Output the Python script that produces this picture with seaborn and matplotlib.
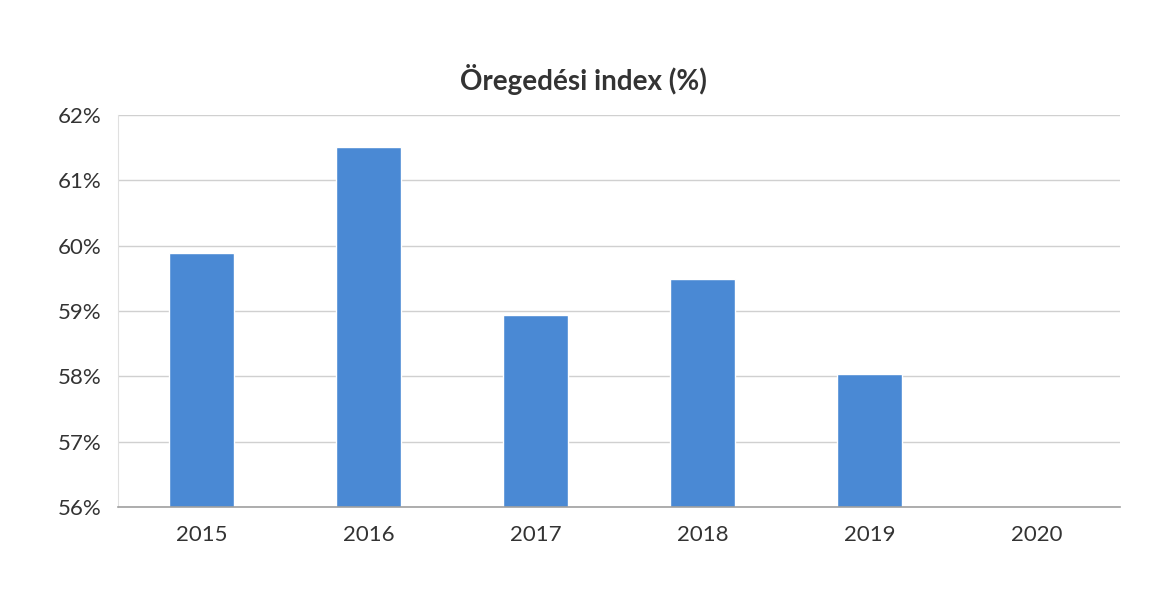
import matplotlib.pyplot as plt
import matplotlib.ticker as mticker
import numpy as np
import pandas as pd
import seaborn as sns

years = ["2015", "2016", "2017", "2018", "2019", "2020"]
index_pct = [59.89, 61.51, 58.94, 59.49, 58.04, np.nan]
y_ticks = [56, 57, 58, 59, 60, 61, 62]

df = pd.DataFrame({"Year": years, "Index": index_pct})

sns.set_style("white")
plt.rcParams["font.family"] = ["Lato", "DejaVu Sans"]

fig = plt.figure(figsize=(11.55, 5.92), dpi=100)
ax = fig.add_axes([0.102, 0.1436, 0.868, 0.6622])

sns.barplot(data=df, x="Year", y="Index", order=years, color="#4a89d4",
            width=0.39, saturation=1, ax=ax)

ax.set_ylim(56, 62)
ax.set_yticks(y_ticks)
ax.yaxis.set_major_formatter(mticker.FuncFormatter(lambda v, p: f"{v:.0f}%"))
ax.set_xlim(-0.5, len(years) - 0.5)
ax.grid(axis="y", color="#d0d0d0", linewidth=1)
ax.set_axisbelow(True)

for side in ["top", "right"]:
    ax.spines[side].set_visible(False)
ax.spines["left"].set_color("#e0e0e0")
ax.spines["bottom"].set_color("#a0a0a0")
ax.spines["bottom"].set_linewidth(1.2)

# category separator ticks on the x axis
ax.set_xticks(np.arange(len(years)))
ax.set_xticks(np.arange(len(years) + 1) - 0.5, minor=True)
ax.tick_params(axis="x", which="major", length=0, pad=13, labelsize=16, labelcolor="#333333")
ax.tick_params(axis="x", which="minor", length=6, color="#a0a0a0", direction="out")
ax.tick_params(axis="y", length=0, pad=12, labelsize=16, labelcolor="#333333")

ax.set_xlabel("")
ax.set_ylabel("")
fig.text(0.505, 0.865, "Öregedési index (%)", ha="center", va="center",
         fontsize=20, fontweight="bold", color="#333333")

fig.savefig("out.png", dpi=100)
